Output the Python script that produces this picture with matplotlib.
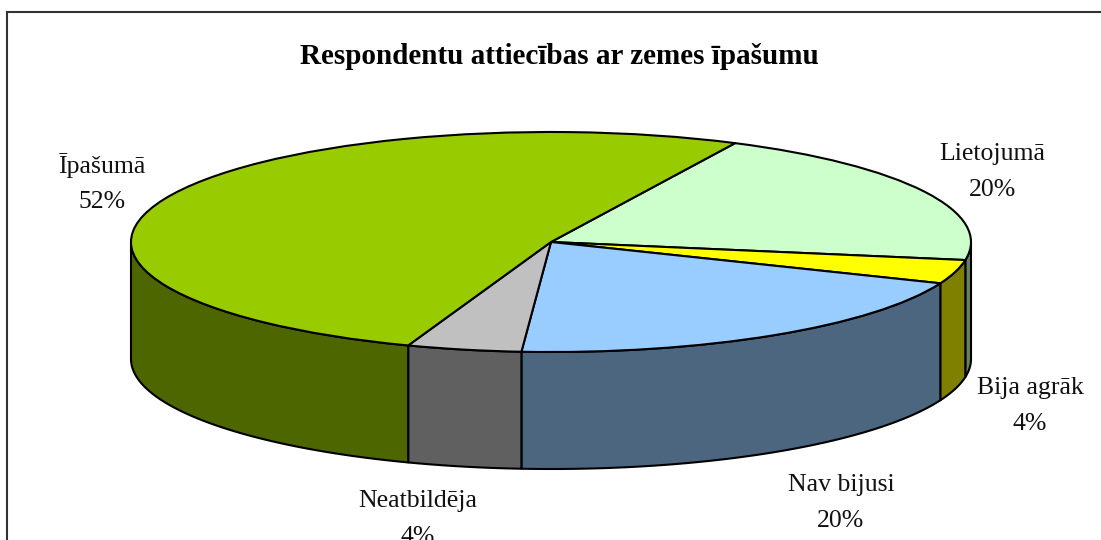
import numpy as np
import matplotlib
matplotlib.use("Agg")
import matplotlib.pyplot as plt
from matplotlib.lines import Line2D

title = "Respondentu attiecības ar zemes īpašumu"
categories = ["Lietojumā", "Bija agrāk", "Nav bijusi", "Neatbildēja", "Īpašumā"]
values = [20.4, 3.5, 20.0, 4.4, 51.7]
top_colors = ["#CCFFCC", "#FFFF00", "#99CCFF", "#C0C0C0", "#99CC00"]
wall_colors = ["#668066", "#808000", "#4D6680", "#606060", "#4D6600"]
label_px = [(992, 172), (1030, 406), (841, 503), (418, 519), (102, 183)]

W, H = 1101, 540
cx, cy, rx, ry, depth = 551, 242, 420, 110, 117
start = 64

plt.rcParams["font.family"] = ["Liberation Serif", "DejaVu Serif"]
fig = plt.figure(figsize=(W / 100, H / 100), dpi=100, facecolor="white")
ax = fig.add_axes([0, 0, 1, 1])


def px(x, y):
    return (x - cx) / rx, (cy - y) / ry


d = depth / ry
edges = start - np.cumsum([0] + values) * 3.6

# side walls, clipped to the front half of the ellipse
for i, (v, c) in enumerate(zip(values, wall_colors)):
    a1, a0 = edges[i], edges[i + 1]
    for lo, hi in [(-180, 0), (-540, -360)]:
        l, h = max(a0, lo), min(a1, hi)
        if h <= l:
            continue
        t = np.radians(np.linspace(h, l, 120))
        xs = np.cos(t)
        ys = np.sin(t)
        poly_x = np.r_[xs, xs[::-1]]
        poly_y = np.r_[ys, ys[::-1] - d]
        ax.fill(poly_x, poly_y, facecolor=c, edgecolor="black", linewidth=1.5,
                joinstyle="round", zorder=1)

# top face
ax.pie(values, colors=top_colors, startangle=start, counterclock=False, radius=1,
       center=(0, 0), wedgeprops=dict(edgecolor="black", linewidth=1.5, zorder=2),
       frame=True)
ax.set_aspect("auto")
ax.set_xlim((0 - cx) / rx, (W - cx) / rx)
ax.set_ylim((cy - H) / ry, cy / ry)
ax.axis("off")

for name, v, (x, y) in zip(categories, values, label_px):
    ax.text(*px(x, y), f"{name}\n{round(v)}%", ha="center", va="center", fontsize=18.5,
            linespacing=1.8, color="#111111", zorder=5, clip_on=False)

ax.text(*px(559, 56), title, ha="center", va="center", fontsize=21,
        fontweight="bold", color="black", zorder=5)

for xs, ys in [((7, 7), (0, H - 12)), ((7, W), (H - 12, H - 12))]:
    fig.add_artist(Line2D(np.array(xs) / W, np.array(ys) / H, transform=fig.transFigure,
                          color="#333333", linewidth=1.5))
fig.savefig("out.png", dpi=100)
